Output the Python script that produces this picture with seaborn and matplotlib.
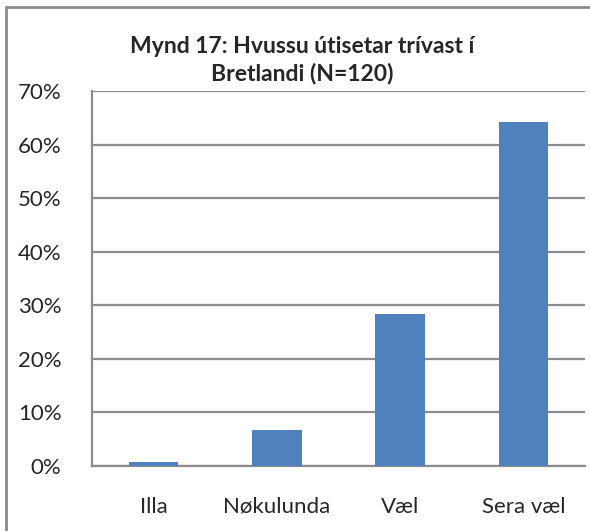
import matplotlib
matplotlib.use("Agg")
import matplotlib.pyplot as plt
import seaborn as sns
import pandas as pd
from matplotlib.lines import Line2D
from matplotlib.ticker import PercentFormatter

categories = ["Illa", "Nøkulunda", "Væl", "Sera væl"]
values = [0.8, 6.7, 28.3, 64.2]
yticks = [0, 10, 20, 30, 40, 50, 60, 70]

df = pd.DataFrame({"cat": categories, "pct": values})

sns.set_style("white")
plt.rcParams["font.family"] = ["Lato", "DejaVu Sans"]

fig = plt.figure(figsize=(5.9, 5.31), dpi=100)
ax = fig.add_axes([92 / 590, 1 - 466 / 531, (585 - 92) / 590, (466 - 91) / 531])

sns.barplot(data=df, x="cat", y="pct", color="#4F81BD", width=0.4,
            saturation=1, edgecolor="none", ax=ax, zorder=3)

ax.set_ylim(0, 70)
ax.set_xlim(-0.5, 3.5)
ax.set_yticks(yticks)
ax.yaxis.set_major_formatter(PercentFormatter(decimals=0))
ax.grid(axis="y", color="#8c8c8c", linewidth=1.6, zorder=0)
ax.set_xlabel("")
ax.set_ylabel("")

for s in ["top", "right"]:
    ax.spines[s].set_visible(False)
for s in ["left", "bottom"]:
    ax.spines[s].set_color("#8c8c8c")
    ax.spines[s].set_linewidth(1.6)

# x ticks sit between categories (Excel style)
ax.set_xticks([-0.5, 0.5, 1.5, 2.5, 3.5])
ax.set_xticklabels([])
ax.set_xticks([0, 1, 2, 3], minor=True)
ax.set_xticklabels(categories, minor=True)
ax.tick_params(axis="x", which="major", length=8, width=1.6, color="#8c8c8c")
ax.tick_params(axis="x", which="minor", length=0, pad=22, labelsize=16)
ax.tick_params(axis="y", length=8, width=1.6, color="#8c8c8c", pad=14, labelsize=16)

fig.text(302 / 590, 1 - 60 / 531, "Mynd 17: Hvussu útisetar trívast í\nBretlandi (N=120)",
         ha="center", va="center", fontsize=16.5, fontweight="bold", linespacing=1.3)

# outer chart border (left and top edges visible)
fig.add_artist(Line2D([6 / 590, 6 / 590], [0, 1 - 7 / 531], transform=fig.transFigure,
                      color="#8c8c8c", linewidth=2))
fig.add_artist(Line2D([6 / 590, 1], [1 - 7 / 531, 1 - 7 / 531], transform=fig.transFigure,
                      color="#8c8c8c", linewidth=2))

fig.savefig("out.png", dpi=100)
